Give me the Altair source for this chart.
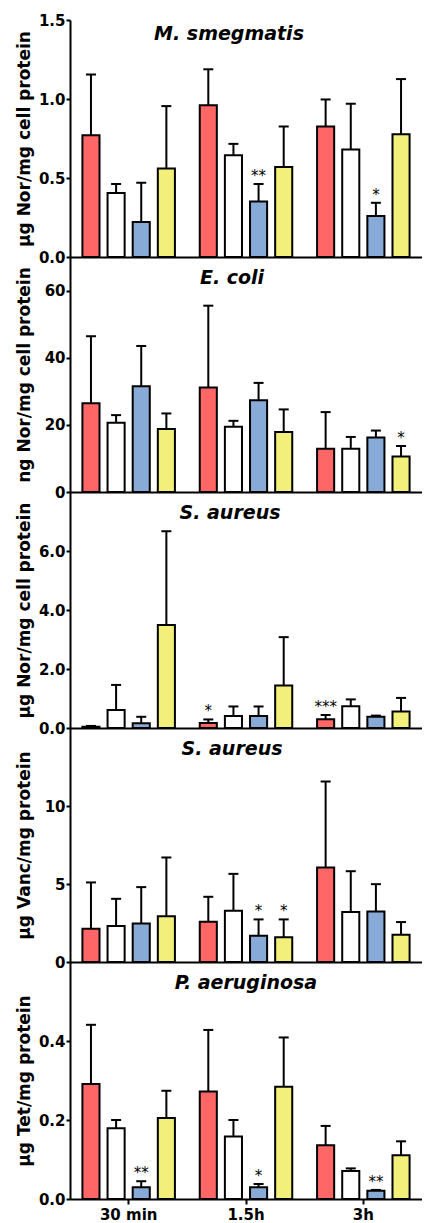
import altair as alt
import pandas as pd

GROUPS = ["30 min", "1.5h", "3h"]
SERIES = ["Series 1", "Series 2", "Series 3", "Series 4"]
COLORS = ["#FF6666", "#FFFFFF", "#88AAD6", "#F2F07A"]

# values listed group by group (30 min, 1.5h, 3h), series 1-4 within each group
SMEG_MEAN = [0.77, 0.405, 0.222, 0.56, 0.96, 0.644, 0.351, 0.57, 0.826, 0.68, 0.26, 0.777]
SMEG_SD = [0.385, 0.057, 0.248, 0.395, 0.228, 0.072, 0.111, 0.256, 0.171, 0.29, 0.083, 0.349]
SMEG_SIG = ["", "", "", "", "", "", "**", "", "", "", "*", ""]

ECOLI_MEAN = [26.4, 20.6, 31.5, 18.8, 31.1, 19.4, 27.3, 17.9, 12.9, 12.9, 16.2, 10.6]
ECOLI_SD = [20.0, 2.3, 12.0, 4.6, 24.4, 1.8, 5.2, 6.7, 10.9, 3.5, 2.1, 3.1]
ECOLI_SIG = ["", "", "", "", "", "", "", "", "", "", "", "*"]

SANOR_MEAN = [0.04, 0.61, 0.16, 3.49, 0.17, 0.41, 0.41, 1.44, 0.30, 0.74, 0.38, 0.56]
SANOR_SD = [0.03, 0.85, 0.22, 3.18, 0.12, 0.32, 0.32, 1.64, 0.14, 0.23, 0.04, 0.46]
SANOR_SIG = ["", "", "", "", "*", "", "", "", "***", "", "", ""]

SAVANC_MEAN = [2.13, 2.30, 2.47, 2.94, 2.58, 3.29, 1.69, 1.58, 6.05, 3.20, 3.24, 1.75]
SAVANC_SD = [2.97, 1.75, 2.33, 3.76, 1.60, 2.36, 1.04, 1.15, 5.52, 2.62, 1.75, 0.81]
SAVANC_SIG = ["", "", "", "", "", "", "*", "*", "", "", "", ""]

PAER_MEAN = [0.291, 0.179, 0.030, 0.205, 0.272, 0.158, 0.030, 0.284, 0.136, 0.071, 0.021, 0.111]
PAER_SD = [0.150, 0.021, 0.015, 0.069, 0.156, 0.042, 0.008, 0.125, 0.049, 0.0065, 0.002, 0.035]
PAER_SIG = ["", "", "**", "", "", "", "*", "", "", "", "**", ""]

TITLES = ["M. smegmatis", "E. coli", "S. aureus", "S. aureus", "P. aeruginosa"]
YTITLES = ["µg Nor/mg cell protein", "ng Nor/mg cell protein", "µg Nor/mg cell protein",
           "µg Vanc/mg protein", "µg Tet/mg protein"]
YMAX = [1.5, 70, 8, 15, 0.6]
YTICKS = [[0, 0.5, 1.0, 1.5], [0, 20, 40, 60], [0, 2, 4, 6], [0, 5, 10], [0, 0.2, 0.4]]
YFMT = [".1f", "d", ".1f", "d", ".1f"]

MEANS = [SMEG_MEAN, ECOLI_MEAN, SANOR_MEAN, SAVANC_MEAN, PAER_MEAN]
SDS = [SMEG_SD, ECOLI_SD, SANOR_SD, SAVANC_SD, PAER_SD]
SIGS = [SMEG_SIG, ECOLI_SIG, SANOR_SIG, SAVANC_SIG, PAER_SIG]

HEIGHTS = [237, 235, 236, 234, 237]
TITLE_DX = [-17, -14, -16, -14, 0]

FONT = "DejaVu Sans"


def make_panel(i):
    rows = []
    for gi, g in enumerate(GROUPS):
        for si, s in enumerate(SERIES):
            k = gi * 4 + si
            rows.append(dict(group=g, series=s, mean=MEANS[i][k],
                             top=MEANS[i][k] + SDS[i][k], sig=SIGS[i][k]))
    df = pd.DataFrame(rows)
    bottom = i == len(TITLES) - 1
    h = HEIGHTS[i]
    if bottom:
        xaxis = alt.Axis(title=None, labelAngle=0, ticks=True, tickSize=5, labelPadding=3,
                         domain=True)
    else:
        xaxis = alt.Axis(title=None, labels=False, ticks=False, domain=True)
    xenc = alt.X("group:N", sort=GROUPS,
                 scale=alt.Scale(paddingInner=0, paddingOuter=0), axis=xaxis)
    xoff = alt.XOffset("series:N", sort=SERIES,
                       scale=alt.Scale(paddingInner=0.32, paddingOuter=0.494))
    yscale = alt.Scale(domain=[0, YMAX[i]], nice=False, zero=True)
    yaxis = alt.Axis(values=YTICKS[i], format=YFMT[i], title=YTITLES[i], grid=False,
                     titleX=-37, titleY=h / 2, titleBaseline="bottom", titleAngle=270,
                     titleFont=FONT, titleFontSize=17, titleFontWeight="bold",
                     titleColor="black", labelFlush=False)
    base = alt.Chart(df).encode(x=xenc, xOffset=xoff)
    bars = base.mark_bar(stroke="black", strokeWidth=2, opacity=1).encode(
        y=alt.Y("mean:Q", scale=yscale, axis=yaxis, stack=None),
        fill=alt.Fill("series:N", scale=alt.Scale(domain=SERIES, range=COLORS), legend=None),
    )
    err = base.mark_rule(strokeWidth=2, color="black").encode(
        y=alt.Y("mean:Q", scale=yscale), y2="top:Q")
    caps = base.mark_tick(size=10, thickness=2, color="black", opacity=1).encode(
        y=alt.Y("top:Q", scale=yscale))
    stars = base.mark_text(font=FONT, fontSize=15, color="black", baseline="alphabetic",
                           dy=-3).encode(y=alt.Y("top:Q", scale=yscale), text="sig:N")
    return alt.layer(bars, err, caps, stars).properties(
        width=352, height=h,
        title=alt.TitleParams(TITLES[i], font=FONT, fontSize=19, fontWeight="bold",
                              fontStyle="italic", anchor="middle", frame="group",
                              offset=-31, dx=TITLE_DX[i], color="black"),
    )


chart = alt.vconcat(*[make_panel(i) for i in range(len(TITLES))], spacing=0,
                    bounds="flush").properties(
    padding={"left": 14, "top": 13, "right": 0, "bottom": 0}
).configure_view(stroke=None).configure_axis(
    domainColor="black", domainWidth=2, tickColor="black", tickWidth=2, tickSize=4,
    labelFont=FONT, labelFontWeight="bold", labelFontSize=15, labelColor="black",
    labelPadding=1,
)

chart.save("out.html", embed_options={"renderer": "svg", "actions": False})
